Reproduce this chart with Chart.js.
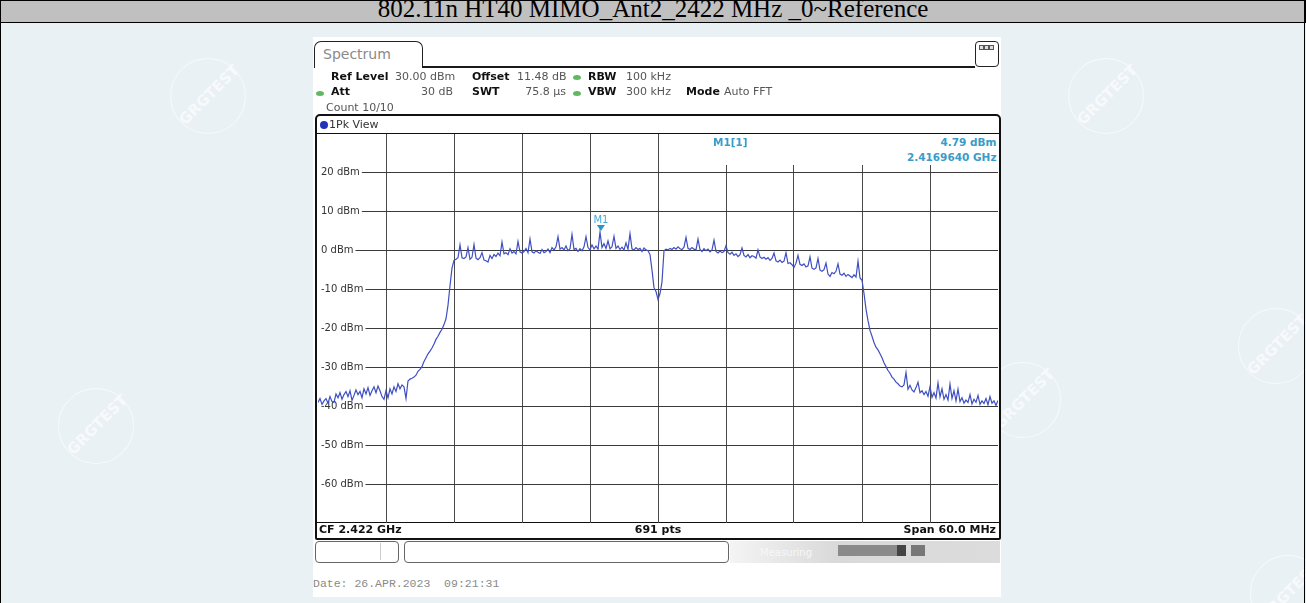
<!DOCTYPE html>
<html>
<head>
<meta charset="utf-8">
<script src="https://cdn.jsdelivr.net/npm/chart.js@4.4.1/dist/chart.umd.min.js"></script>
<style>
  html, body { margin:0; padding:0; }
  body { width:1306px; height:603px; position:relative; overflow:hidden; background:#eaf1f5; font-family:"DejaVu Sans", sans-serif; }
  .abs { position:absolute; white-space:pre; }
  #title { left:0; top:0; width:1304px; height:21px; background:#c0c0c0; border:1px solid #000; }
  #shot { left:313px; top:37px; width:688px; height:560px; background:#fff; }
  .ln { position:absolute; background:#1a1a1a; }
  .wm { position:absolute; width:74px; height:74px; border:1.5px solid rgba(255,255,255,0.6); border-radius:50%;
        transform:rotate(-45deg); color:rgba(255,255,255,0.65); font:bold 15px "DejaVu Sans"; text-align:center; line-height:74px; }
</style>
</head>
<body>
<div class="wm" style="left:170px;top:58px">GRGTEST</div>
<div class="wm" style="left:1068px;top:58px">GRGTEST</div>
<div class="wm" style="left:58px;top:388px">GRGTEST</div>
<div class="wm" style="left:1238px;top:308px">GRGTEST</div>
<div class="wm" style="left:985px;top:362px">GRGTEST</div>
<div class="wm" style="left:1250px;top:555px">GRGTEST</div>

<div id="title" class="abs"></div>
<div class="ln" style="left:0;top:0;width:1px;height:603px;background:#000"></div>
<div class="ln" style="left:1304px;top:0;width:1px;height:603px;background:#000"></div>
<div id="shot" class="abs"></div>

<!-- Spectrum tab and header line -->
<div class="abs" style="left:314px;top:41px;width:107px;height:26px;border:1.5px solid #222;border-bottom:none;border-radius:7px 7px 0 0;background:#fff"></div>
<div class="ln" style="left:422px;top:66px;width:553px;height:1.5px"></div>
<div class="abs" style="left:975px;top:41px;width:22px;height:24px;border:1.5px solid #222;border-radius:4px;background:#fff"></div>
<div class="abs" style="left:979px;top:45px;width:15px;height:5px;background:#555"></div>
<div class="abs" style="left:980px;top:46px;width:3px;height:3px;background:#ddd"></div>
<div class="abs" style="left:985px;top:46px;width:3px;height:3px;background:#ddd"></div>
<div class="abs" style="left:990px;top:46px;width:3px;height:3px;background:#ddd"></div>

<!-- green status dots -->
<div class="abs" style="left:573px;top:75px;width:8px;height:5px;border-radius:50%;background:#62b862"></div>
<div class="abs" style="left:573px;top:91px;width:8px;height:5px;border-radius:50%;background:#62b862"></div>
<div class="abs" style="left:316px;top:91px;width:8px;height:5px;border-radius:50%;background:#62b862"></div>

<!-- diagram frame -->
<div class="abs" style="left:315px;top:114px;width:682px;height:422px;border:2px solid #111;border-radius:5px 5px 2px 2px;background:#fff"></div>
<div class="abs" style="left:320px;top:121px;width:8px;height:8px;border-radius:50%;background:#2233bb"></div>
<div class="ln" style="left:317px;top:133px;width:682px;height:1px;background:#111"></div>
<div class="ln" style="left:317px;top:522px;width:682px;height:1px;background:#111"></div>

<div style="position:absolute;left:317px;top:133px;width:682px;height:391px;">
  <canvas id="c" width="682" height="391"></canvas>
</div>

<!-- marker info box (covers the grid in the top-right corner) -->
<div class="abs" style="left:660px;top:134px;width:338px;height:31px;background:#fff"></div>

<!-- bottom soft-key row -->
<div class="abs" style="left:315px;top:541px;width:82px;height:20px;border:1px solid #666;border-radius:4px;background:#fff"></div>
<div class="abs" style="left:380px;top:543px;width:1px;height:17px;background:#ccc"></div>
<div class="abs" style="left:404px;top:541px;width:323px;height:20px;border:1px solid #666;border-radius:4px;background:#fff"></div>
<div class="abs" style="left:730px;top:541px;width:270px;height:22px;background:linear-gradient(to right,#f4f4f4,#d9d9d9 40%,#dcdcdc)"></div>
<div class="abs" style="left:838px;top:545px;width:60px;height:11px;background:#8a8a8a"></div>
<div class="abs" style="left:897px;top:545px;width:9px;height:11px;background:#444"></div>
<div class="abs" style="left:911px;top:545px;width:14px;height:11px;background:#777"></div>

<div id="texts"></div>

<script>
// ---------------- data ----------------
const titleText = "802.11n HT40 MIMO_Ant2_2422 MHz _0~Reference";
const centerFreqMHz = 2422;
const spanMHz = 60;
const startFreqMHz = 2392;
const stopFreqMHz = 2452;
const refLevel = 30;
const bottomLevel = -70;
const yTickValues = [20, 10, 0, -10, -20, -30, -40, -50, -60];
const xGridMHz = [2398, 2404, 2410, 2416, 2422, 2428, 2434, 2440, 2446];
const markerFreqMHz = 2416.964;
const markerLevel = 4.79;
// trace levels (dBm) at uniform steps across the span
const levels = [
  -39.0, -38.0, -39.5, -38.6, -38.0, -39.2, -37.5, -38.8, -39.0, -36.8,
  -37.8, -36.5, -38.2, -37.0, -36.2, -37.5, -36.0, -38.5, -37.2, -35.8,
  -37.0, -36.2, -37.8, -35.5, -36.8, -35.2, -37.2, -36.0, -35.0, -36.5,
  -34.8, -36.0, -37.5, -38.2, -36.0, -37.8, -35.5, -36.8, -35.0, -36.2,
  -34.2, -35.5, -34.5, -35.0, -38.0, -33.5, -33.0, -32.8, -32.5, -32.0,
  -31.0, -30.5, -29.8, -28.5, -27.5, -26.5, -25.8, -25.0, -24.0, -22.8,
  -22.0, -21.0, -20.2, -19.0, -17.5, -14.0, -9.0, -4.5, -2.5, -2.2,
  -1.8, 1.5, -1.8, -2.0, -1.6, 0.8, -2.2, -1.7, 1.6, -1.9,
  -2.3, -1.8, -0.5, -2.4, -2.6, -2.9, -1.2, -2.0, -1.0, -1.5,
  -0.6, -1.3, 2.2, -0.8, -0.5, -1.0, 0.5, -0.6, -0.2, -0.8,
  2.4, -0.3, -0.6, -0.2, 0.6, -0.5, 3.0, -0.3, -0.6, 0.0,
  -0.4, -0.7, 0.3, -0.5, -0.2, 0.4, -0.5, 0.8, 0.2, 1.0,
  3.6, 0.4, 0.8, 0.2, 1.2, 0.0, 0.5, 4.2, 0.3, 0.6,
  -0.2, 0.5, 0.0, 1.0, 3.6, 0.8, 0.2, 1.5, 0.5, 1.2,
  0.4, 4.79, 0.8, 1.8, 0.6, 2.5, 0.5, 1.0, 3.7, 0.6,
  1.2, 0.3, 0.9, 0.2, 2.0, 0.4, 4.4, 0.5, 0.2, 0.8,
  0.3, 0.6, -0.2, 0.7, 0.2, 0.0, -1.0, -5.0, -9.5, -10.5,
  -12.5, -11.0, -8.0, 0.0, 0.4, 0.2, 0.6, 0.3, 0.8, 0.4,
  1.0, 0.5, 0.3, 0.9, 3.4, 0.6, 0.3, 0.8, 0.4, 0.2,
  3.0, 0.3, -0.2, 0.5, 0.0, 0.4, -0.3, 0.2, 2.7, -0.2,
  -0.6, -0.1, -0.5, -0.2, 1.3, -0.5, -0.9, -0.4, -1.2, -0.8,
  -1.5, -1.0, 0.7, -1.2, -1.6, -1.0, -1.8, -1.3, -1.5, -1.9,
  0.2, -1.6, -2.0, -1.7, -2.2, -1.8, -2.5, -2.0, -0.6, -2.6,
  -2.9, -2.4, -3.0, -2.7, -0.5, -3.3, -3.1, -3.6, -4.3, -3.2,
  -1.2, -3.5, -3.8, -3.4, -4.2, -3.9, -1.6, -4.5, -4.8, -4.4,
  -2.0, -5.0, -5.3, -4.9, -3.2, -6.0, -6.6, -5.6, -5.9, -5.3,
  -3.4, -6.0, -6.3, -5.8, -6.6, -6.1, -6.5, -6.9, -6.2, -6.8,
  -2.7, -7.0, -7.6, -11.0, -15.0, -18.0, -20.5, -22.0, -23.6, -24.8,
  -25.5, -26.5, -27.5, -28.8, -29.8, -30.8, -31.5, -32.5, -33.0, -33.8,
  -34.2, -34.8, -35.0, -34.5, -31.3, -35.6, -34.6, -35.8, -36.3, -35.2,
  -33.8, -36.5, -36.0, -37.0, -36.2, -37.4, -35.0, -37.7, -36.5, -37.9,
  -34.0, -37.6, -35.5, -38.2, -37.0, -38.4, -34.3, -38.0, -36.0, -38.6,
  -35.6, -38.8, -37.8, -39.2, -38.4, -39.0, -37.0, -39.4, -38.2, -39.0,
  -37.2, -39.5, -38.6, -39.3, -38.0, -39.6, -37.5, -39.2, -38.6, -39.8,
  -38.5
];

// ---------------- header / footer texts ----------------
const texts = document.getElementById('texts');
function t(x, base, str, o) {
  o = o || {};
  const size = o.size || 11;
  const fam = o.fam || '"DejaVu Sans", sans-serif';
  const k = o.k || 0.846;
  const s = document.createElement('div');
  s.className = 'abs';
  s.textContent = str;
  s.style.fontFamily = fam;
  s.style.fontSize = size + 'px';
  s.style.lineHeight = size + 'px';
  s.style.fontWeight = o.bold ? 'bold' : 'normal';
  s.style.color = o.color || '#333';
  s.style.top = (base - k * size) + 'px';
  if (o.align === 'right') s.style.right = (1306 - x) + 'px';
  else if (o.align === 'center') { s.style.left = (x - 400) + 'px'; s.style.width = '800px'; s.style.textAlign = 'center'; }
  else s.style.left = x + 'px';
  texts.appendChild(s);
  return s;
}
t(653, 17, titleText, {fam:'"Liberation Serif", serif', size:25, k:0.8375, color:'#000', align:'center'});
t(323, 59, 'Spectrum', {size:14, color:'#8a8a8a'});
t(331, 80, 'Ref Level', {bold:true, color:'#111'});
t(395, 80, '30.00 dBm', {color:'#555'});
t(472, 80, 'Offset', {bold:true, color:'#111'});
t(517, 80, '11.48 dB', {color:'#555'});
t(588, 80, 'RBW', {bold:true, color:'#111'});
t(626, 80, '100 kHz', {color:'#555'});
t(331, 95.5, 'Att', {bold:true, color:'#111'});
t(453, 95.5, '30 dB', {color:'#555', align:'right'});
t(472, 95.5, 'SWT', {bold:true, color:'#111'});
t(566, 95.5, '75.8 µs', {color:'#555', align:'right'});
t(588, 95.5, 'VBW', {bold:true, color:'#111'});
t(626, 95.5, '300 kHz', {color:'#555'});
t(686, 95.5, 'Mode', {bold:true, color:'#111'});
t(724, 95.5, 'Auto FFT', {color:'#555'});
t(326, 111, 'Count 10/10', {color:'#555'});
t(329, 128.5, '1Pk View', {color:'#333'});
t(713, 146, 'M1[1]', {bold:true, size:10.5, color:'#3a9cc8'});
t(996.5, 146, '4.79 dBm', {bold:true, size:10.5, color:'#3a9cc8', align:'right'});
t(996.5, 161, '2.4169640 GHz', {bold:true, size:10.5, color:'#3a9cc8', align:'right'});
t(319, 533, 'CF ' + (centerFreqMHz/1000).toFixed(3) + ' GHz', {bold:true, size:11, color:'#111'});
t(658, 533, '691 pts', {bold:true, size:11, color:'#111', align:'center'});
t(996, 533, 'Span ' + spanMHz.toFixed(1) + ' MHz', {bold:true, size:11, color:'#111', align:'right'});
t(760, 556, 'Measuring', {size:10, color:'#f7f7f7'});
t(313, 587, 'Date: 26.APR.2023  09:21:31', {fam:'"Liberation Mono", monospace', size:11.5, k:0.767, color:'#8a8a8a'});

// ---------------- chart ----------------
const step = spanMHz / (levels.length - 1);
const points = levels.map((v, i) => ({x: startFreqMHz + i * step, y: v}));

const markerPlugin = {
  id: 'marker',
  afterDatasetsDraw(chart) {
    const {ctx, scales:{x, y}} = chart;
    const px = x.getPixelForValue(markerFreqMHz);
    const py = y.getPixelForValue(markerLevel);
    ctx.save();
    ctx.fillStyle = '#2a95c8';
    ctx.beginPath();
    ctx.moveTo(px - 4, py - 7);
    ctx.lineTo(px + 4, py - 7);
    ctx.lineTo(px, py - 1);
    ctx.closePath();
    ctx.fill();
    ctx.font = '10px "DejaVu Sans"';
    ctx.fillStyle = '#4aaad6';
    ctx.textAlign = 'center';
    ctx.textBaseline = 'alphabetic';
    ctx.fillText('M1', px, py - 9);
    ctx.restore();
  }
};

new Chart(document.getElementById('c'), {
  type: 'line',
  data: { datasets: [{ data: points, borderColor: '#3f4fc0', borderWidth: 1.2, pointRadius: 0, tension: 0, fill: false }] },
  options: {
    responsive: false, animation: false, events: [],
    layout: { padding: 1 },
    plugins: { legend: { display: false }, tooltip: { enabled: false } },
    scales: {
      x: {
        type: 'linear', min: startFreqMHz, max: stopFreqMHz,
        afterBuildTicks: s => { s.ticks = xGridMHz.map(v => ({value: v})); },
        afterFit: s => { s.height = 0; s.paddingLeft = 0; s.paddingRight = 0; s.paddingTop = 0; s.paddingBottom = 0; },
        ticks: { display: false },
        grid: { color: '#4a4a4a', lineWidth: 1, drawTicks: false },
        border: { display: false }
      },
      y: {
        type: 'linear', min: bottomLevel, max: refLevel,
        afterBuildTicks: s => { s.ticks = yTickValues.map(v => ({value: v})); },
        afterFit: s => { s.width = 0; s.paddingTop = 0; s.paddingBottom = 0; s.paddingLeft = 0; s.paddingRight = 0; },
        ticks: {
          mirror: true, padding: 3, color: '#333',
          font: { family: 'DejaVu Sans', size: 10 },
          callback: v => v + ' dBm',
          showLabelBackdrop: true, backdropColor: '#ffffff',
          backdropPadding: { top: 1, bottom: 1, left: 3, right: 2 }
        },
        grid: { color: '#3a3a3a', lineWidth: 1, drawTicks: false },
        border: { display: false }
      }
    }
  },
  plugins: [markerPlugin]
});
</script>
</body>
</html>
